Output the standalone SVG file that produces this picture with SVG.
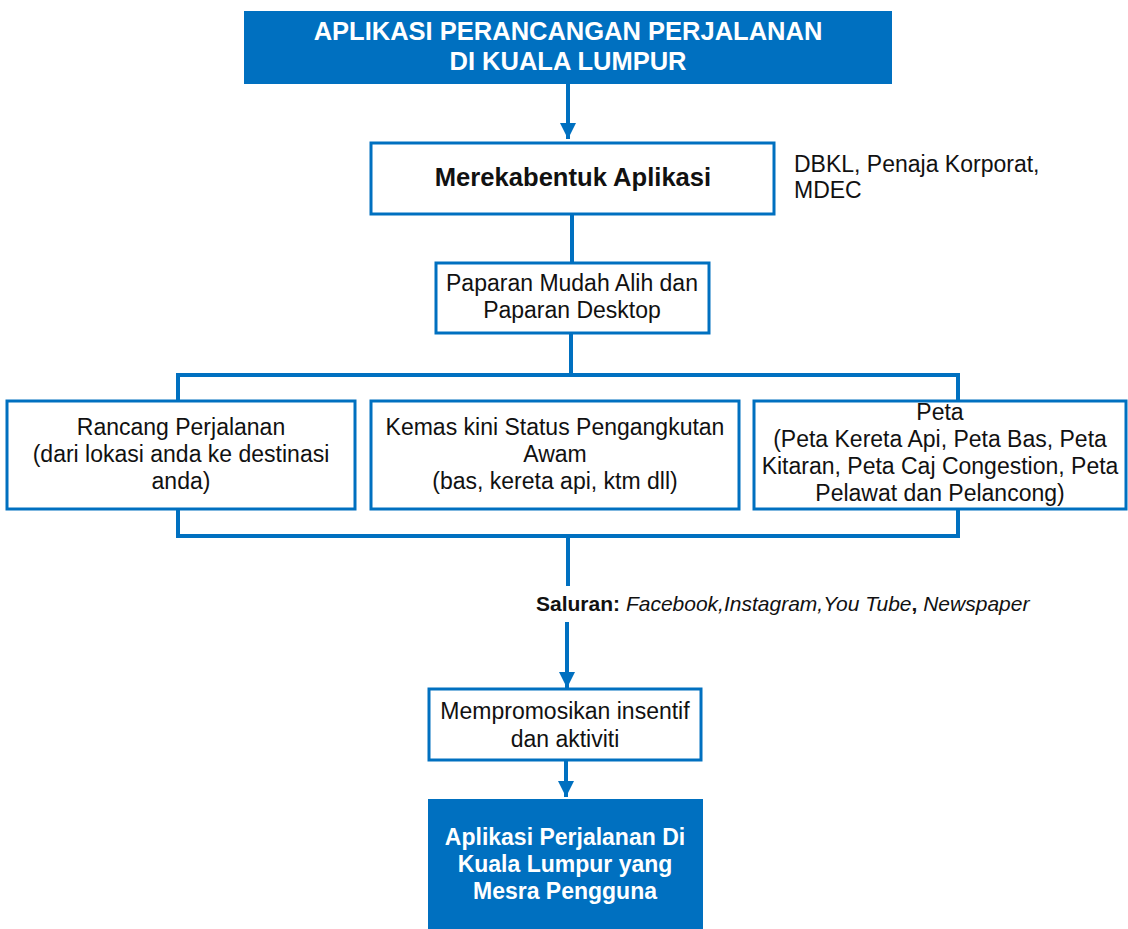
<svg xmlns="http://www.w3.org/2000/svg" width="1128" height="929" viewBox="0 0 1128 929">
  <style>
    .solid { fill: #0070C0; }
    .box { fill: #FFFFFF; stroke: #0070C0; stroke-width: 3; }
    .wire { fill: none; stroke: #0070C0; stroke-width: 4; }
    .t { font-family: "Liberation Sans", Arial, sans-serif; font-size: 23px; fill: #111111; text-anchor: middle; }
    .ts { font-family: "Liberation Sans", Arial, sans-serif; font-size: 23px; fill: #111111; text-anchor: start; }
    .tw { font-family: "Liberation Sans", Arial, sans-serif; font-weight: bold; fill: #FFFFFF; text-anchor: middle; }
    .hb { font-weight: bold; font-size: 25.6px; }
    .note { font-size: 21px; }
  </style>
  <defs>
    <marker id="arrow" markerWidth="4" markerHeight="4" refX="4" refY="2" orient="auto" markerUnits="strokeWidth">
      <path d="M0,0 L4,2 L0,4 Z" fill="#0070C0"/>
    </marker>
  </defs>

  <g id="connectors">
    <line class="wire" x1="568" y1="84" x2="568" y2="139" marker-end="url(#arrow)"/>
    <line class="wire" x1="572" y1="214" x2="572" y2="263"/>
    <line class="wire" x1="571" y1="333" x2="571" y2="375"/>
    <polyline class="wire" points="178,401 178,375 958,375 958,401"/>
    <polyline class="wire" points="178,509 178,536 958,536 958,509"/>
    <line class="wire" x1="568" y1="536" x2="568" y2="586"/>
    <line class="wire" x1="567" y1="622" x2="567" y2="688" marker-end="url(#arrow)"/>
    <line class="wire" x1="566" y1="760" x2="566" y2="797" marker-end="url(#arrow)"/>
  </g>

  <g id="title">
    <rect class="solid" x="244" y="11" width="648" height="73"/>
    <text class="tw" font-size="25.5" x="568" y="40">APLIKASI PERANCANGAN PERJALANAN</text>
    <text class="tw" font-size="25.5" x="568" y="70">DI KUALA LUMPUR</text>
  </g>

  <g id="merekabentuk">
    <rect class="box" x="371" y="143" width="403" height="71"/>
    <text class="t hb" x="573" y="186">Merekabentuk Aplikasi</text>
  </g>

  <g id="partners">
    <text class="ts" x="794" y="172">DBKL, Penaja Korporat,</text>
    <text class="ts" x="794" y="198">MDEC</text>
  </g>

  <g id="paparan">
    <rect class="box" x="436" y="263" width="273" height="70"/>
    <text class="t" x="572" y="291">Paparan Mudah Alih dan</text>
    <text class="t" x="572" y="318">Paparan Desktop</text>
  </g>

  <g id="rancang">
    <rect class="box" x="7" y="401" width="348" height="108"/>
    <text class="t" x="181" y="435">Rancang Perjalanan</text>
    <text class="t" x="181" y="462">(dari lokasi anda ke destinasi</text>
    <text class="t" x="181" y="489">anda)</text>
  </g>

  <g id="kemaskini">
    <rect class="box" x="371" y="401" width="368" height="108"/>
    <text class="t" x="555" y="435">Kemas kini Status Pengangkutan</text>
    <text class="t" x="555" y="462">Awam</text>
    <text class="t" x="555" y="489">(bas, kereta api, ktm dll)</text>
  </g>

  <g id="peta">
    <rect class="box" x="754" y="401" width="372" height="108"/>
    <text class="t" x="940" y="420">Peta</text>
    <text class="t" x="940" y="447">(Peta Kereta Api, Peta Bas, Peta</text>
    <text class="t" x="940" y="474">Kitaran, Peta Caj Congestion, Peta</text>
    <text class="t" x="940" y="501">Pelawat dan Pelancong)</text>
  </g>

  <g id="saluran">
    <text class="ts note" x="536" y="611"><tspan font-weight="bold">Saluran:</tspan> <tspan font-style="italic">Facebook,Instagram,You Tube</tspan><tspan font-weight="bold">,</tspan> <tspan font-style="italic">Newspaper</tspan></text>
  </g>

  <g id="promosi">
    <rect class="box" x="429" y="689" width="272" height="71"/>
    <text class="t" x="565" y="719">Mempromosikan insentif</text>
    <text class="t" x="565" y="747">dan aktiviti</text>
  </g>

  <g id="hasil">
    <rect class="solid" x="428" y="799" width="275" height="130"/>
    <text class="tw" font-size="23" x="565" y="845">Aplikasi Perjalanan Di</text>
    <text class="tw" font-size="23" x="565" y="872">Kuala Lumpur yang</text>
    <text class="tw" font-size="23" x="565" y="899">Mesra Pengguna</text>
  </g>
</svg>
